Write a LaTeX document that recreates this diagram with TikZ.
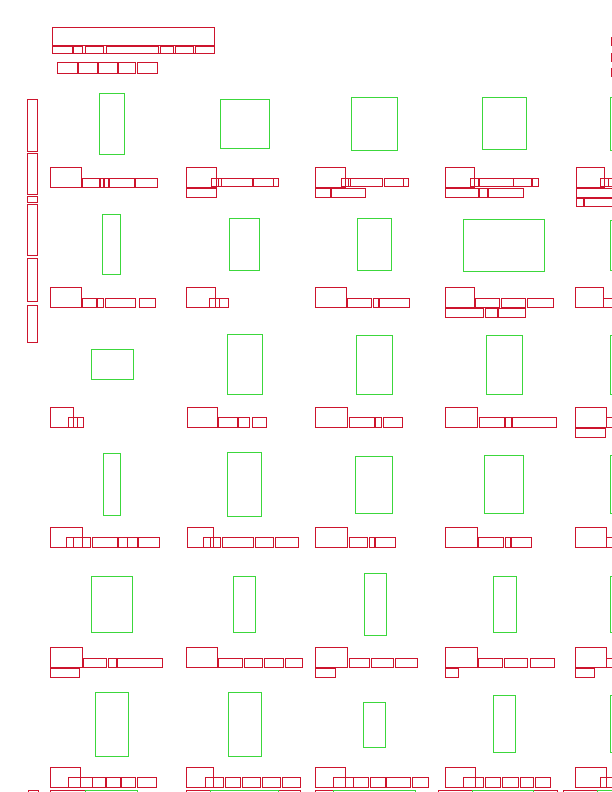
\documentclass[tikz,border=0pt]{standalone}
\usepackage{xcolor}
\definecolor{boxred}{RGB}{205,20,45}
\definecolor{boxgreen}{RGB}{60,215,60}
\tikzset{
  rb/.style={draw=boxred,line width=0.6pt},
  gb/.style={draw=boxgreen,line width=0.7pt}
}
% row of small red boxes: y1, y2, list of x1/x2
\newcommand{\RedRow}[3]{\foreach \xa/\xb in {#3} {\draw[rb] (\xa,#1) rectangle (\xb,#2);}}
\newcommand{\GreenRow}[3]{\foreach \xa/\xb in {#3} {\draw[gb] (\xa,#1) rectangle (\xb,#2);}}
\begin{document}
\begin{tikzpicture}[x=1pt,y=-1pt]
\useasboundingbox (0,0) rectangle (612,792);
\clip (0,0) rectangle (612,792);
% header
\draw[rb] (52,27) rectangle (214,53);
\draw[boxred,line width=1pt] (52,46) -- (214,46);
\RedRow{46}{53}{52/72,73/82,85/103,106/158,160/173,175/193,195/214}
\RedRow{62}{73}{57/77,78/97,98/117,118/135,137/157}
% top right fragments
\RedRow{37}{45}{611/620}
\RedRow{53}{61}{611/620}
\RedRow{68}{76}{611/620}
% left vertical boxes
\RedRow{99}{151}{27/37}
\RedRow{153}{194}{27/37}
\RedRow{196}{202}{27/37}
\RedRow{204}{255}{27/37}
\RedRow{258}{301}{27/37}
\RedRow{305}{342}{27/37}
% ---------- row 1
\draw[gb] (99,93) rectangle (124,154);
\draw[gb] (220,99) rectangle (269,148);
\draw[gb] (351,97) rectangle (397,150);
\draw[gb] (482,97) rectangle (526,149);
\draw[gb] (610,97) rectangle (640,150);
\RedRow{167}{187}{50/81,186/216,315/345,445/474,576/604}
\RedRow{178}{187}{82/99,100/103,104/108,109/134,135/157}
\RedRow{178}{186}{211/218,218/221,221/252,253/273,273/278}
\RedRow{188}{197}{186/216}
\RedRow{178}{186}{341/348,348/350,350/382,384/403,403/408}
\RedRow{188}{197}{315/330,331/365}
\RedRow{178}{186}{470/478,479/513,513/531,532/538}
\RedRow{188}{197}{445/478,479/487,488/523}
\RedRow{178}{186}{600/608,608/616}
\RedRow{188}{197}{576/616}
\RedRow{198}{206}{576/583,584/616}
% ---------- row 2
\draw[gb] (102,214) rectangle (120,274);
\draw[gb] (229,218) rectangle (259,270);
\draw[gb] (357,218) rectangle (391,270);
\draw[gb] (463,219) rectangle (544,271);
\draw[gb] (610,220) rectangle (640,270);
\RedRow{287}{307}{50/81,186/215,315/346,445/474,575/603}
\RedRow{298}{307}{82/96,97/103,105/135,139/155}
\RedRow{298}{307}{209/219,219/228}
\RedRow{298}{307}{347/371,373/378,379/409}
\RedRow{298}{307}{475/499,501/525,527/553}
\RedRow{308}{317}{445/483,485/497,498/525}
\RedRow{298}{307}{603/616}
% ---------- row 3
\draw[gb] (91,349) rectangle (133,379);
\draw[gb] (227,334) rectangle (262,394);
\draw[gb] (356,335) rectangle (392,394);
\draw[gb] (486,335) rectangle (522,394);
\draw[gb] (610,335) rectangle (640,394);
\RedRow{407}{427}{50/73,187/217,315/347,445/477,575/606}
\RedRow{417}{427}{68/77,77/83}
\RedRow{417}{427}{218/237,238/249,252/266}
\RedRow{417}{427}{349/374,375/381,383/402}
\RedRow{417}{427}{479/504,505/511,512/556}
\RedRow{417}{427}{606/616}
\RedRow{428}{437}{575/605}
% ---------- row 4
\draw[gb] (103,453) rectangle (120,515);
\draw[gb] (227,452) rectangle (261,516);
\draw[gb] (355,456) rectangle (392,513);
\draw[gb] (484,455) rectangle (523,513);
\draw[gb] (610,455) rectangle (640,513);
\RedRow{527}{547}{50/82,187/213,315/347,445/477,575/606}
\RedRow{537}{547}{66/73,73/90,92/117,118/127,127/137,138/159}
\RedRow{537}{547}{203/210,210/220,222/253,255/273,275/298}
\RedRow{537}{547}{349/367,369/374,375/395}
\RedRow{537}{547}{478/503,505/510,511/531}
\RedRow{537}{547}{606/616}
% ---------- row 5
\draw[gb] (91,576) rectangle (132,632);
\draw[gb] (233,576) rectangle (255,632);
\draw[gb] (364,573) rectangle (386,635);
\draw[gb] (493,576) rectangle (516,632);
\draw[gb] (610,576) rectangle (640,632);
\RedRow{647}{667}{50/82,186/217,315/347,445/477,575/606}
\RedRow{658}{667}{83/106,108/116,117/162}
\RedRow{668}{677}{50/79}
\RedRow{658}{667}{218/242,244/262,264/283,285/302}
\RedRow{658}{667}{349/369,371/393,395/417}
\RedRow{668}{677}{315/335}
\RedRow{658}{667}{478/502,504/527,530/554}
\RedRow{668}{677}{445/458}
\RedRow{658}{667}{606/616}
\RedRow{668}{677}{575/594}
% ---------- row 6
\draw[gb] (95,692) rectangle (128,756);
\draw[gb] (228,692) rectangle (261,756);
\draw[gb] (363,702) rectangle (385,747);
\draw[gb] (493,695) rectangle (515,752);
\draw[gb] (610,695) rectangle (640,752);
\RedRow{767}{787}{50/80,186/213,315/345,445/475,575/606}
\RedRow{777}{787}{68/80,80/92,92/105,106/120,121/135,137/156}
\RedRow{777}{787}{205/213,213/223,225/240,242/260,262/280,282/300}
\RedRow{777}{787}{333/345,345/353,353/368,370/385,386/410,412/428}
\RedRow{777}{787}{463/475,475/483,485/500,502/518,520/533,535/550}
\RedRow{777}{787}{600/606,606/616}
% ---------- bottom edge fragments
\RedRow{790}{800}{28/38,50/85,186/210,278/300,315/333,438/472,533/557,563/597}
\GreenRow{790}{800}{85/137,210/278,333/415,472/533,597/616}
\end{tikzpicture}
\end{document}
